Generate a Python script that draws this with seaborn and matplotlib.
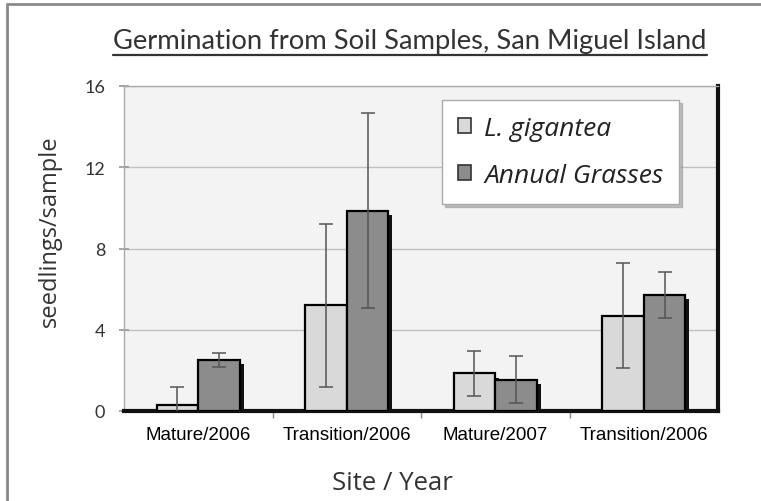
import matplotlib
matplotlib.use("Agg")
import matplotlib.pyplot as plt
import matplotlib.patheffects as pe
from matplotlib.patches import Rectangle
from matplotlib.ticker import FixedLocator
import seaborn as sns
import pandas as pd

# ---- data ----
sites = ["Mature/2006", "Transition/2006", "Mature/2007", "Transition/2006"]
series = ["L. gigantea", "Annual Grasses"]
gigantea = [0.3, 5.2, 1.85, 4.7]
gigantea_err = [0.9, 4.0, 1.1, 2.6]
grasses = [2.5, 9.85, 1.55, 5.7]
grasses_err = [0.35, 4.8, 1.15, 1.12]
yticks = [0, 4, 8, 12, 16]

keys = [str(i) for i in range(len(sites))]
df = pd.DataFrame({
    "site": keys * 2,
    "series": [series[0]] * 4 + [series[1]] * 4,
    "value": gigantea + grasses,
})

sns.set_theme(style="white")
plt.rcParams["font.family"] = ["Lato", "DejaVu Sans"]

W, H = 761, 502
fig = plt.figure(figsize=(W / 100, H / 100), dpi=100)
fig.patch.set_facecolor("white")
L, R, T, B = 124, 718, 87, 412
ax = fig.add_axes([L / W, 1 - B / H, (R - L) / W, (B - T) / H])
ax.set_facecolor("#f3f3f3")

sns.barplot(data=df, x="site", y="value", hue="series", order=keys,
            hue_order=series, palette=["#d9d9d9", "#8c8c8c"],
            width=0.56, gap=0, errorbar=None, edgecolor="black",
            linewidth=1.6, saturation=1, ax=ax, zorder=3)

errs = [gigantea_err, grasses_err]
vals = [gigantea, grasses]
for cont, e, v in zip(ax.containers, errs, vals):
    for bar in cont:
        bar.set_path_effects([pe.SimplePatchShadow(offset=(3, -3), shadow_rgbFace="#111111", alpha=1.0), pe.Normal()])
    xs = [b.get_x() + b.get_width() / 2 for b in cont]
    ax.errorbar(xs, v, yerr=e, fmt="none", ecolor="#555555", elinewidth=1.1,
                capsize=5, capthick=1.1, zorder=5)

ax.set_ylim(0, 16)
ax.set_xlim(-0.5, 3.5)
ax.set_yticks(yticks)
ax.set_yticklabels([str(t) for t in yticks], fontsize=13, color="#333333")
ax.set_xticks(range(len(sites)))
ax.set_xticklabels(sites, fontsize=13.5, color="black",
                   fontfamily=["Liberation Sans", "DejaVu Sans"])
ax.xaxis.set_minor_locator(FixedLocator([0.5, 1.5, 2.5]))
ax.tick_params(axis="x", which="major", length=0, pad=11)
ax.tick_params(axis="x", which="minor", length=5, color="#888888", direction="out", bottom=True)
ax.tick_params(axis="y", length=7, direction="inout", color="#999999", pad=10, left=True)
ax.yaxis.grid(True, color="#c0c0c0", linewidth=1)
ax.set_axisbelow(True)

for s in ["left", "top"]:
    ax.spines[s].set_color("#aaaaaa")
    ax.spines[s].set_linewidth(1)
for s in ["bottom", "right"]:
    ax.spines[s].set_color("#111111")
    ax.spines[s].set_linewidth(3)

ax.set_xlabel("Site / Year", fontsize=18.5, color="#333333",
              fontfamily=["Open Sans", "DejaVu Sans"])
ax.xaxis.label.set_va("center")
ax.xaxis.set_label_coords((392 - L) / (R - L), -(483 - B) / (B - T))
ax.set_ylabel("seedlings/sample", fontsize=17, color="#333333",
              fontfamily=["Open Sans", "DejaVu Sans"])
ax.yaxis.label.set_va("center")
ax.yaxis.set_label_coords(-(L - 50) / (R - L), (B - 231) / (B - T))

leg = ax.legend(loc="upper left", bbox_to_anchor=((442 - L) / (R - L), 1 - (101 - T) / (B - T)),
                frameon=True, fancybox=False,
                shadow={"color": "#9a9a9a", "alpha": 0.6},
                prop={"family": ["Open Sans", "DejaVu Sans"], "style": "italic", "size": 19},
                handlelength=0.5, handleheight=0.5, handletextpad=0.5,
                labelspacing=0.85, borderpad=0.6, borderaxespad=0)
leg.get_frame().set_edgecolor("#aaaaaa")
leg.get_frame().set_facecolor("white")
leg.get_frame().set_linewidth(1)
leg.get_frame().set_alpha(1)
for t in leg.get_texts():
    t.set_color("#222222")
for h in leg.legend_handles:
    h.set_edgecolor("#333333")
    h.set_linewidth(1.2)

title = fig.text(410 / W, 1 - 42 / H, "Germination from Soil Samples, San Miguel Island",
                 ha="center", va="center", fontsize=19.7, color="#333333",
                 fontfamily=["Lato", "DejaVu Sans"])
fig.canvas.draw()
bb = title.get_window_extent().transformed(fig.transFigure.inverted())
fig.add_artist(plt.Line2D([bb.x0, bb.x1], [1 - 56 / H, 1 - 56 / H],
                          color="#333333", linewidth=1.6))
# outer frame
fig.add_artist(Rectangle((7 / W, -0.2), 1.5, 1.2 - 5 / H, fill=False,
                         edgecolor="#8a8a8a", linewidth=2, transform=fig.transFigure))

fig.savefig("out.png", dpi=100)
